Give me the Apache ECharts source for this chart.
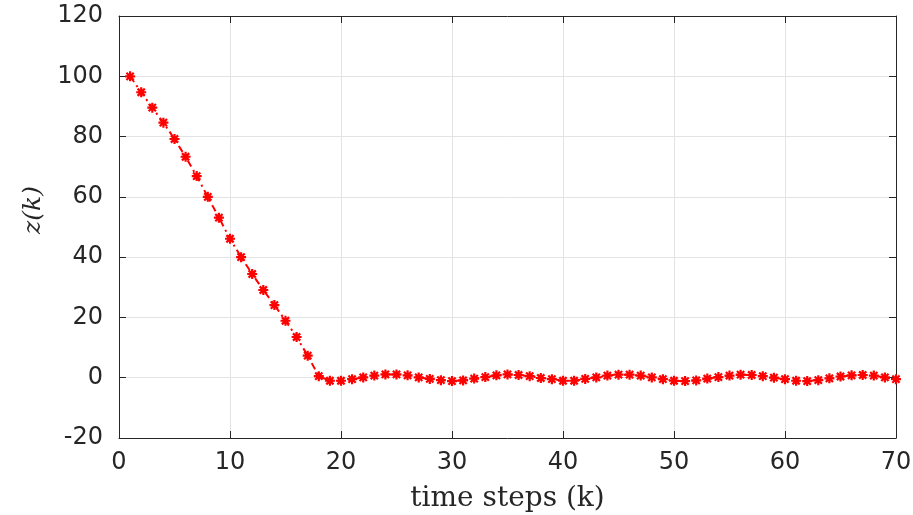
<!DOCTYPE html>
<html>
<head>
<meta charset="utf-8">
<script src="https://cdn.jsdelivr.net/npm/echarts@6/dist/echarts.min.js"></script>
<style>html,body{margin:0;padding:0;background:#fff}#c{width:913px;height:515px}</style>
</head>
<body>
<div id="c"></div>
<script>
const steps = [1,2,3,4,5,6,7,8,9,10,11,12,13,14,15,16,17,18,19,20,21,22,23,24,25,26,27,28,29,30,31,32,33,34,35,36,37,38,39,40,41,42,43,44,45,46,47,48,49,50,51,52,53,54,55,56,57,58,59,60,61,62,63,64,65,66,67,68,69,70];
const zValues = [100,94.7,89.6,84.6,79.2,73.3,66.9,60.0,53.1,46.1,40.0,34.4,29.1,24.1,18.9,13.5,7.3,0.5,-1,-1,
  -0.5,0.1,0.7,1.1,1.1,0.8,0.1,-0.4,-0.8,-1.1,-0.9,-0.3,0.2,0.8,1.1,0.9,0.5,-0.1,-0.5,-1,
  -1,-0.4,0.1,0.7,1,1,0.7,0.1,-0.5,-1,-1.1,-0.9,-0.3,0.2,0.7,1,0.9,0.5,0,-0.5,
  -1,-1.1,-0.8,-0.2,0.4,0.8,0.9,0.7,0.1,-0.5];
const xTicks = [0,10,20,30,40,50,60,70];
const yTicks = [-20,0,20,40,60,80,100,120];
const xLabel = 'time steps (k)';
const yLabel = 'z(k)';

const axisColor = '#262626';
const chart = echarts.init(document.getElementById('c'), null, {renderer:'canvas'});
const labelFont = {fontFamily:'DejaVu Sans', fontSize:24, color:axisColor};
const boxAxis = {
  axisLine:{show:true, lineStyle:{color:axisColor, width:1}},
  axisTick:{show:true, inside:true, length:7, lineStyle:{color:axisColor}},
  axisLabel:{show:false}, splitLine:{show:false}
};
chart.setOption({
  animation:false,
  backgroundColor:'#fff',
  grid:{left:119, right:17, top:16, bottom:77, containLabel:false, outerBoundsMode:'none'},
  xAxis:[{
    type:'value', min:xTicks[0], max:xTicks[xTicks.length-1], interval:10,
    name:xLabel, nameLocation:'middle', nameGap:47,
    nameTextStyle:{fontFamily:'DejaVu Serif', fontSize:28, color:axisColor},
    axisLine:{show:true, onZero:false, lineStyle:{color:axisColor, width:1}},
    axisTick:{show:true, inside:true, length:7, lineStyle:{color:axisColor}},
    axisLabel:Object.assign({margin:13}, labelFont),
    splitLine:{show:true, lineStyle:{color:'#e3e3e3', width:1}}
  },{
    type:'value', position:'top', min:xTicks[0], max:xTicks[xTicks.length-1], interval:10, ...boxAxis,
    axisLine:{show:true, onZero:false, lineStyle:{color:axisColor, width:1}}
  }],
  yAxis:[{
    type:'value', min:yTicks[0], max:yTicks[yTicks.length-1], interval:20,
    name:yLabel, nameLocation:'middle', nameGap:72,
    nameTextStyle:{fontFamily:'DejaVu Serif', fontStyle:'italic', fontSize:25, color:axisColor, padding:[0,0,0,34]},
    axisLine:{show:true, onZero:false, lineStyle:{color:axisColor, width:1}},
    axisTick:{show:true, inside:true, length:7, lineStyle:{color:axisColor}},
    axisLabel:Object.assign({margin:16}, labelFont),
    splitLine:{show:true, lineStyle:{color:'#e3e3e3', width:1}}
  },{
    type:'value', position:'right', min:yTicks[0], max:yTicks[yTicks.length-1], interval:20, ...boxAxis,
    axisLine:{show:true, onZero:false, lineStyle:{color:axisColor, width:1}}
  }],
  series:[{
    type:'line',
    data:steps.map((k,i)=>[k, zValues[i]]),
    symbol:'path://M0,-4L0,4M-4,0L4,0M-2.9,-2.9L2.9,2.9M-2.9,2.9L2.9,-2.9',
    symbolSize:10,
    itemStyle:{color:'#ff0000', borderColor:'#ff0000', borderWidth:2.2},
    lineStyle:{color:'#ff0000', width:2, type:[7,4,2,4]},
    showAllSymbol:true
  }]
});
</script>
</body>
</html>
